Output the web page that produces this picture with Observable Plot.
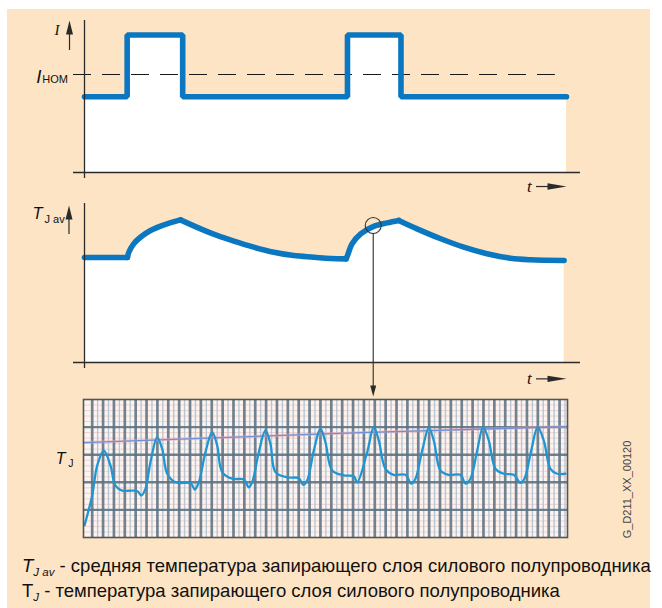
<!DOCTYPE html>
<html><head><meta charset="utf-8">
<script src="https://cdn.jsdelivr.net/npm/d3@7"></script>
<script src="https://cdn.jsdelivr.net/npm/@observablehq/plot@0.6"></script>
<style>
body{margin:0;background:#fff;}
#root{position:relative;width:662px;height:608px;overflow:hidden;background:#fff;font-family:"Liberation Sans",Arial,sans-serif;}
#bg{position:absolute;left:7px;top:9px;width:643px;height:599px;background:#fde4c4;}
.cap{position:absolute;left:22px;font-size:18.5px;line-height:20px;color:#111;white-space:nowrap;}
.sub{font-size:11.5px;position:relative;top:4px;}
</style></head><body>
<div id="root"><div id="bg"></div>
<div class="cap" id="cap1" style="top:556px"><i>T</i><i class="sub">J av</i> - средняя температура запирающего слоя силового полупроводника</div>
<div class="cap" id="cap2" style="top:581px">T<i class="sub">J</i> - температура запирающего слоя силового полупроводника</div>
</div>
<script>
// ---- Panel 1: load current I(t), relative to nominal current ----
const currentTime  = [0, 8.85, 20.37, 54.56, 65.66, 100];
const currentValue = [0.773, 1.403, 0.773, 1.403, 0.773, 0.773];
const nominalCurrent = 1;

// ---- Panel 2: average junction temperature T_J av (relative units) ----
const tavSegment = [0,0, 1,1,1,1,1,1,1, 2,2,2,2,2,2,2,2,2,2, 3,3,3,3,3,3,3, 4,4,4,4,4,4,4,4];
const tavTime  = [0,8.9, 8.9,9.2,10.2,11.6,13.7,16.5,19.9, 19.9,24.1,27.5,31,35.1,39.3,43.4,47.6,51,54.3, 54.3,54.7,55.5,57.3,60,62.8,65.2, 65.2,69,73.9,78.7,83.5,88.4,92.5,99.5];
const tavValue = [70,70, 70,73.5,79.1,83.5,88,91.8,95.1, 95.1,89.1,84.7,80.9,76.9,73.5,71.3,70.2,69.3,69.1, 69.1,72.5,79.1,85.8,90.7,93.1,94.7, 94.7,89.1,82.5,76.9,72.5,69.5,68.5,68];
const zoomPoint = {t: 59.9, T: 91.3};

// ---- Panel 3: recorded junction temperature T_J (chart divisions) ----
const tjTime  = [-0.7,0,0.46,1.07,1.68,2.14,2.76,3.68,4.2,4.51,4.9,5.36,5.98,6.44,6.9,7.66,8.74,9.11,9.44,9.81,10.42,11.04,11.5,11.96,12.88,13.95,14.41,14.72,15.33,15.94,16.4,16.86,17.94,19.01,19.41,19.78,20.39,21,21.46,22.08,23.15,24.07,24.38,25.3,25.91,26.37,26.98,27.75,28.82,29.35,29.74,30.36,30.97,31.43,32.04,32.81,33.88,34.34,34.8,35.42,35.97,36.49,37.1,37.87,38.79,39.4,39.77,40.39,40.99,41.55,42.16,42.78,43.54];
const tjValue = [0.45,1.52,2.61,3.15,2.61,1.88,1.7,1.7,1.67,1.52,1.76,2.73,3.63,3.21,2.31,2.0,1.98,1.95,1.74,2.0,3.09,3.82,3.33,2.37,2.13,2.1,1.82,2.0,3.09,3.88,3.39,2.37,2.18,2.15,1.91,2.07,3.15,3.94,3.45,2.43,2.25,2.22,2.0,3.09,4.0,3.51,2.49,2.27,2.27,1.95,2.13,3.15,3.97,3.51,2.43,2.27,2.27,1.95,2.13,3.15,4.0,3.51,2.49,2.31,2.27,1.98,2.13,3.15,4.0,3.51,2.49,2.31,2.31];
const refLineTime  = [-0.8, 24.7, 43.73];
const refLineValue = [3.44, 3.80, 4.02];
const majorX = d3.range(0, 44);
const minorX = d3.range(0.5, 43.6, 1);
const majorY = [1, 2, 3, 4];
const minorY = d3.range(0.2, 5, 0.2).filter(v => Math.abs(v - Math.round(v)) > 0.05);

const labelText = {I: "I", nom: "I", nomSub: "HOM", tav: "T", tavSub: "J av", t: "t", tj: "T", tjSub: "J", code: "G_D211_XX_00120"};

// ---- styling helpers ----
const BLUE = "#0a77c0";
const INK = "#2a2a2a";
const arrowUp = {draw(c){ c.moveTo(0,0); c.lineTo(3.5,14); c.lineTo(-3.5,14); c.closePath(); }};
const arrowRight = {draw(c){ c.moveTo(0,0); c.lineTo(-19,-3.2); c.lineTo(-19,3.2); c.closePath(); }};
const arrowDown = {draw(c){ c.moveTo(0,0); c.lineTo(-3,-11); c.lineTo(3,-11); c.closePath(); }};
const serif = "'Liberation Serif','Times New Roman',serif";
const sans = "'Liberation Sans',Arial,sans-serif";
const txt = (s, o) => Plot.text([s], {text: d => d, lineAnchor: "bottom", ...o});
const head = (sym, o) => Plot.dot([0], {symbol: sym, r: 4, fill: INK, stroke: "none", ...o});

const currentRows = currentTime.map((t, i) => ({t, v: currentValue[i]}));
const tavRows = tavTime.map((t, i) => ({t, T: tavValue[i], s: tavSegment[i]}));
const tjRows = tjTime.map((t, i) => ({t, T: tjValue[i]}));
const refRows = refLineTime.map((t, i) => ({t, T: refLineValue[i]}));

const root = document.getElementById("root");
function place(svg, top){ svg.style.position = "absolute"; svg.style.left = "0px"; svg.style.top = top + "px"; root.appendChild(svg); }
const common = {width: 662, style: {background: "transparent", overflow: "visible"}};

// Panel 1
place(Plot.plot({...common,
  height: 200, marginLeft: 84, marginRight: 96, marginTop: 20, marginBottom: 22,
  x: {domain: [0, 100], axis: null},
  y: {domain: [-0.0612, 1.551], axis: null},
  marks: [
    Plot.areaY(currentRows, {x: "t", y1: 0, y2: "v", curve: "step-after", fill: "white"}),
    Plot.ruleY([nominalCurrent], {x1: -2.28, x2: 97.7, stroke: "#1a1a1a", strokeWidth: 1.2, strokeDasharray: "18,11"}),
    Plot.lineY(currentRows, {x: "t", y: "v", curve: "step-after", stroke: BLUE, strokeWidth: 5.6, strokeLinejoin: "miter"}),
    Plot.ruleX([0], {stroke: INK, strokeWidth: 1.3}),
    Plot.ruleY([0], {x1: -2.28, x2: 102.9, stroke: INK, strokeWidth: 1.3}),
    Plot.ruleX([-3.11], {y1: 1.245, y2: 1.45, stroke: INK, strokeWidth: 1.2}),
    head(arrowUp, {x: -3.11, y: 1.551}),
    Plot.ruleY([-0.143], {x1: 93.78, x2: 97, stroke: INK, strokeWidth: 1.2}),
    head(arrowRight, {x: 100, y: -0.143}),
    txt(labelText.I, {x: -5.71, y: 1.408, fontFamily: serif, fontStyle: "italic", fontSize: 15, fill: "#111"}),
    txt(labelText.nom, {x: -10.0, y: 0.918, textAnchor: "start", fontFamily: sans, fontStyle: "italic", fontSize: 18.5, fill: "#111"}),
    txt(labelText.nomSub, {x: -8.75, y: 0.918, textAnchor: "start", fontFamily: sans, fontSize: 11, fill: "#111"}),
    txt(labelText.t, {x: 92.3, y: -0.199, fontFamily: serif, fontStyle: "italic", fontSize: 17, fill: "#111"})
  ]
}), 0);

// Panel 2
place(Plot.plot({...common,
  height: 215, marginLeft: 84, marginRight: 96, marginTop: 13, marginBottom: 37,
  x: {domain: [0, 100], axis: null},
  y: {domain: [-4, 106], axis: null},
  marks: [
    Plot.areaY(tavRows, {x: "t", y1: 0, y2: "T", curve: "linear", fill: "white"}),
    Plot.lineY(tavRows, {x: "t", y: "T", z: "s", curve: "catmull-rom", stroke: BLUE, strokeWidth: 5.6, strokeLinecap: "round", strokeLinejoin: "round"}),
    Plot.ruleX([0], {stroke: INK, strokeWidth: 1.3}),
    Plot.ruleY([0], {x1: -2.28, x2: 102.9, stroke: INK, strokeWidth: 1.3}),
    Plot.ruleX([-3.22], {y1: 85.3, y2: 98, stroke: INK, strokeWidth: 1.2}),
    head(arrowUp, {x: -3.22, y: 104.7}),
    Plot.ruleY([-10.9], {x1: 93.78, x2: 97, stroke: INK, strokeWidth: 1.2}),
    head(arrowRight, {x: 100, y: -10.9}),
    Plot.dot([zoomPoint], {x: "t", y: "T", r: 8, stroke: "#333", strokeWidth: 1.1, fill: "none"}),
    Plot.ruleX([zoomPoint.t], {y1: 85.9, y2: -16, stroke: INK, strokeWidth: 1.1}),
    head(arrowDown, {x: zoomPoint.t, y: -22.7}),
    txt(labelText.tav, {x: -10.79, y: 96, textAnchor: "start", fontFamily: sans, fontStyle: "italic", fontSize: 16.5, fill: "#111"}),
    txt(labelText.tavSub, {x: -8.3, y: 93.3, textAnchor: "start", fontFamily: sans, fontSize: 11, fill: "#111"}),
    txt(labelText.t, {x: 92.3, y: -14, fontFamily: serif, fontStyle: "italic", fontSize: 17, fill: "#111"})
  ]
}), 190);

// Panel 3: oscillogram
place(Plot.plot({...common,
  height: 150, marginLeft: 83, marginRight: 95, marginTop: 9, marginBottom: 3,
  x: {domain: [-0.8, 43.73], axis: null},
  y: {domain: [0, 5], axis: null},
  marks: [
    Plot.frame({fill: "#fcf4f1", stroke: "none"}),
    Plot.ruleY(minorY, {stroke: "#f0c4bc", strokeWidth: 1, strokeOpacity: 0.7}),
    Plot.ruleX(minorX, {stroke: "#b0c2cf", strokeWidth: 1.4, strokeOpacity: 0.9}),
    Plot.ruleX(majorX, {stroke: "#627686", strokeWidth: 2.7, strokeOpacity: 0.9}),
    Plot.ruleY(majorY, {stroke: "#5f7282", strokeWidth: 2.4, strokeOpacity: 0.9}),
    Plot.line(refRows, {x: "t", y: "T", stroke: "#f0a8b8", strokeWidth: 3, strokeOpacity: 0.5}),
    Plot.line(refRows, {x: "t", y: "T", stroke: "#6f8fd6", strokeWidth: 1.3}),
    Plot.line(tjRows, {x: "t", y: "T", curve: "catmull-rom", stroke: "#1f96d4", strokeWidth: 2.3}),
    Plot.frame({stroke: "#555", strokeWidth: 1.6}),
    txt(labelText.tj, {x: -3.35, y: 2.68, textAnchor: "start", fontFamily: sans, fontStyle: "italic", fontSize: 16, fill: "#111"}),
    txt(labelText.tjSub, {x: -2.2, y: 2.54, textAnchor: "start", fontFamily: sans, fontSize: 10.5, fill: "#111"}),
    Plot.text([labelText.code], {text: d => d, x: 49.25, y: 1.74, rotate: -90, fontFamily: sans, fontSize: 11, fill: "#444"})
  ]
}), 390);
</script>
</body></html>
